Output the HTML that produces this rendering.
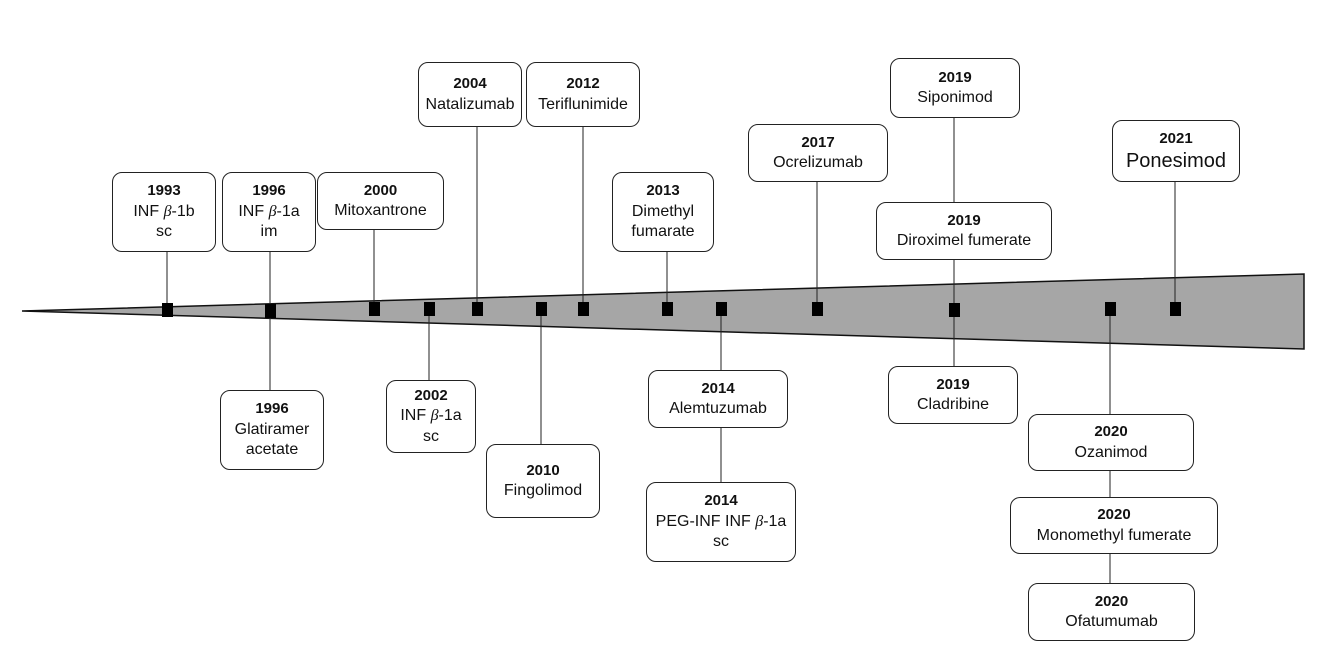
<!DOCTYPE html>
<html><head><meta charset="utf-8"><style>
body{margin:0;width:1343px;height:663px;background:#fff;position:relative;overflow:hidden;font-family:"Liberation Sans",sans-serif;color:#111}
.b{position:absolute;box-sizing:border-box;border:1.5px solid #222;border-radius:10px;background:#fff;display:flex;flex-direction:column;justify-content:center;align-items:center;text-align:center;font-size:16px;line-height:20.5px;white-space:nowrap}
.b b{font-weight:bold;font-size:15px}
svg{position:absolute;left:0;top:0}
i{font-family:"Liberation Serif",serif}
</style></head><body>
<svg width="1343" height="663">
<polygon points="22,311 1304,274 1304,349" fill="#a6a6a6" stroke="#111" stroke-width="1.5"/>
<g stroke="#222" stroke-width="1">
<line x1="167" y1="252" x2="167" y2="310"/>
<line x1="270" y1="252" x2="270" y2="390"/>
<line x1="374" y1="230" x2="374" y2="310"/>
<line x1="429" y1="310" x2="429" y2="380"/>
<line x1="477" y1="127" x2="477" y2="310"/>
<line x1="541" y1="310" x2="541" y2="444"/>
<line x1="583" y1="127" x2="583" y2="310"/>
<line x1="667" y1="252" x2="667" y2="310"/>
<line x1="721" y1="310" x2="721" y2="482"/>
<line x1="817" y1="182" x2="817" y2="310"/>
<line x1="954" y1="118" x2="954" y2="366"/>
<line x1="1110" y1="310" x2="1110" y2="583"/>
<line x1="1175" y1="182" x2="1175" y2="310"/>
</g>
<g fill="#000">
<rect x="162" y="303" width="11" height="14"/>
<rect x="265" y="304" width="11" height="14"/>
<rect x="369" y="302" width="11" height="14"/>
<rect x="424" y="302" width="11" height="14"/>
<rect x="472" y="302" width="11" height="14"/>
<rect x="536" y="302" width="11" height="14"/>
<rect x="578" y="302" width="11" height="14"/>
<rect x="662" y="302" width="11" height="14"/>
<rect x="716" y="302" width="11" height="14"/>
<rect x="812" y="302" width="11" height="14"/>
<rect x="949" y="303" width="11" height="14"/>
<rect x="1105" y="302" width="11" height="14"/>
<rect x="1170" y="302" width="11" height="14"/>
</g>
</svg>
<div class="b" style="left:112px;top:172px;width:104px;height:80px"><b>1993</b><span>INF <i>β</i>-1b</span><span>sc</span></div>
<div class="b" style="left:222px;top:172px;width:94px;height:80px"><b>1996</b><span>INF <i>β</i>-1a</span><span>im</span></div>
<div class="b" style="left:317px;top:172px;width:127px;height:58px"><b>2000</b><span>Mitoxantrone</span></div>
<div class="b" style="left:418px;top:62px;width:104px;height:65px"><b>2004</b><span>Natalizumab</span></div>
<div class="b" style="left:526px;top:62px;width:114px;height:65px"><b>2012</b><span>Teriflunimide</span></div>
<div class="b" style="left:612px;top:172px;width:102px;height:80px"><b>2013</b><span>Dimethyl</span><span>fumarate</span></div>
<div class="b" style="left:748px;top:124px;width:140px;height:58px"><b>2017</b><span>Ocrelizumab</span></div>
<div class="b" style="left:890px;top:58px;width:130px;height:60px"><b>2019</b><span>Siponimod</span></div>
<div class="b" style="left:876px;top:202px;width:176px;height:58px"><b>2019</b><span>Diroximel fumerate</span></div>
<div class="b" style="left:1112px;top:120px;width:128px;height:62px"><b>2021</b><span style="font-size:20px;line-height:24px">Ponesimod</span></div>
<div class="b" style="left:220px;top:390px;width:104px;height:80px"><b>1996</b><span>Glatiramer</span><span>acetate</span></div>
<div class="b" style="left:386px;top:380px;width:90px;height:73px"><b>2002</b><span>INF <i>β</i>-1a</span><span>sc</span></div>
<div class="b" style="left:486px;top:444px;width:114px;height:74px"><b>2010</b><span>Fingolimod</span></div>
<div class="b" style="left:648px;top:370px;width:140px;height:58px"><b>2014</b><span>Alemtuzumab</span></div>
<div class="b" style="left:646px;top:482px;width:150px;height:80px"><b>2014</b><span>PEG-INF INF <i>β</i>-1a</span><span>sc</span></div>
<div class="b" style="left:888px;top:366px;width:130px;height:58px"><b>2019</b><span>Cladribine</span></div>
<div class="b" style="left:1028px;top:414px;width:166px;height:57px"><b>2020</b><span>Ozanimod</span></div>
<div class="b" style="left:1010px;top:497px;width:208px;height:57px"><b>2020</b><span>Monomethyl fumerate</span></div>
<div class="b" style="left:1028px;top:583px;width:167px;height:58px"><b>2020</b><span>Ofatumumab</span></div>
</body></html>
